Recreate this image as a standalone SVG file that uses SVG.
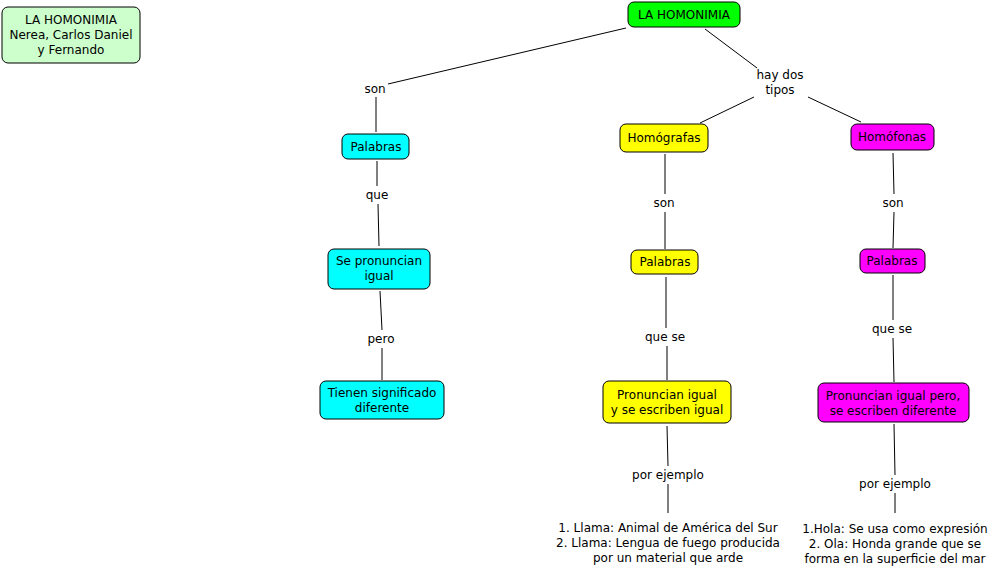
<svg xmlns="http://www.w3.org/2000/svg" width="998" height="574" viewBox="0 0 998 574">
<style>
text{font-family:"DejaVu Sans",Verdana,sans-serif;font-size:12px;fill:#000;text-anchor:middle}
.n{stroke:#000;stroke-width:1}
.c line{stroke:#000;stroke-width:1}
</style>
<rect width="998" height="574" fill="#fff"/>
<g class="c" id="connectors">
<line x1="626" y1="28" x2="388" y2="84"/>
<line x1="376" y1="97" x2="376" y2="132"/>
<line x1="705" y1="29" x2="757" y2="68"/>
<line x1="754" y1="97" x2="700" y2="123"/>
<line x1="808" y1="97" x2="861" y2="122"/>
<line x1="377" y1="161" x2="377" y2="186"/>
<line x1="378" y1="204" x2="379" y2="246"/>
<line x1="380" y1="291" x2="382" y2="330"/>
<line x1="382" y1="348" x2="382" y2="380"/>
<line x1="665" y1="154" x2="665" y2="194"/>
<line x1="665" y1="212" x2="665" y2="249"/>
<line x1="666" y1="277" x2="666" y2="328"/>
<line x1="667" y1="346" x2="667" y2="380"/>
<line x1="667" y1="426" x2="668" y2="466"/>
<line x1="668" y1="484" x2="668" y2="513"/>
<line x1="893" y1="153" x2="894" y2="194"/>
<line x1="894" y1="212" x2="893" y2="248"/>
<line x1="893" y1="275" x2="893" y2="320"/>
<line x1="893" y1="338" x2="894" y2="382"/>
<line x1="894" y1="424" x2="895" y2="475"/>
<line x1="895" y1="493" x2="895" y2="513"/>
</g>
<g id="title"><rect class="n" x="2" y="7" width="138" height="56" rx="6" fill="#ccffcc"/>
<text x="71" y="24">LA HOMONIMIA</text><text x="71" y="39">Nerea, Carlos Daniel</text><text x="71" y="54">y Fernando</text></g>
<g id="root"><rect class="n" x="628" y="2" width="112" height="25" rx="6" fill="#00ff00"/><text x="684" y="19">LA HOMONIMIA</text></g>
<g id="l-son1"><text x="375" y="93">son</text></g>
<g id="l-hay"><text x="780" y="79">hay dos</text><text x="780" y="94">tipos</text></g>
<g id="palabras1"><rect class="n" x="342" y="134" width="67" height="25" rx="6" fill="#00ffff"/><text x="376" y="151">Palabras</text></g>
<g id="l-que"><text x="377" y="199">que</text></g>
<g id="sepron"><rect class="n" x="328" y="249" width="102" height="40" rx="6" fill="#00ffff"/><text x="379" y="265">Se pronuncian</text><text x="379" y="280">igual</text></g>
<g id="l-pero"><text x="381" y="343">pero</text></g>
<g id="tienen"><rect class="n" x="320" y="381" width="124" height="38" rx="6" fill="#00ffff"/><text x="382" y="397">Tienen significado</text><text x="382" y="412">diferente</text></g>
<g id="homografas"><rect class="n" x="620" y="124" width="88" height="28" rx="6" fill="#ffff00"/><text x="664" y="142">Homógrafas</text></g>
<g id="homofonas"><rect class="n" x="851" y="124" width="83" height="26" rx="6" fill="#ff00ff"/><text x="892" y="141">Homófonas</text></g>
<g id="l-son2"><text x="664" y="207">son</text></g>
<g id="l-son3"><text x="893" y="207">son</text></g>
<g id="palabras2"><rect class="n" x="631" y="250" width="67" height="24" rx="6" fill="#ffff00"/><text x="665" y="266">Palabras</text></g>
<g id="palabras3"><rect class="n" x="860" y="249" width="65" height="24" rx="6" fill="#ff00ff"/><text x="892" y="265">Palabras</text></g>
<g id="l-quese1"><text x="665" y="341">que se</text></g>
<g id="l-quese2"><text x="892" y="333">que se</text></g>
<g id="pron1"><rect class="n" x="603" y="381" width="128" height="42" rx="6" fill="#ffff00"/><text x="667" y="399">Pronuncian igual</text><text x="667" y="414">y se escriben igual</text></g>
<g id="pron2"><rect class="n" x="818" y="383" width="151" height="39" rx="6" fill="#ff00ff"/><text x="893" y="400">Pronuncian igual pero,</text><text x="893" y="415">se escriben diferente</text></g>
<g id="l-ej1"><text x="668" y="479">por ejemplo</text></g>
<g id="l-ej2"><text x="895" y="488">por ejemplo</text></g>
<g id="ej1"><text x="668" y="532">1. Llama: Animal de América del Sur</text><text x="668" y="547">2. Llama: Lengua de fuego producida</text><text x="668" y="562">por un material que arde</text></g>
<g id="ej2"><text x="895" y="533">1.Hola: Se usa como expresión</text><text x="895" y="548">2. Ola: Honda grande que se</text><text x="895" y="563">forma en la superficie del mar</text></g>
</svg>
